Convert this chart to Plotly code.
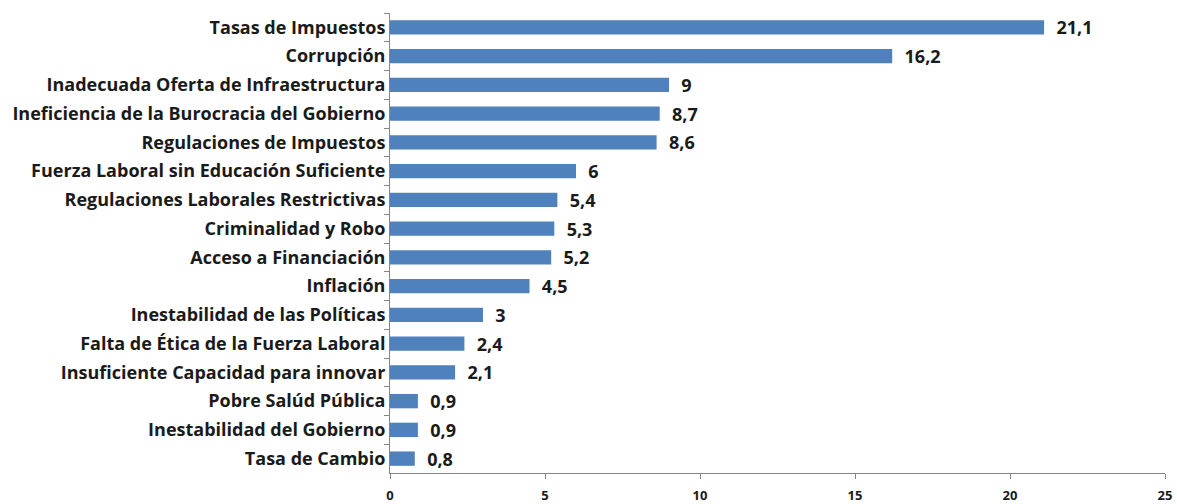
import plotly.graph_objects as go

categories = [
    "Tasas de Impuestos",
    "Corrupción",
    "Inadecuada Oferta de Infraestructura",
    "Ineficiencia de la Burocracia del Gobierno",
    "Regulaciones de Impuestos",
    "Fuerza Laboral sin Educación Suficiente",
    "Regulaciones Laborales Restrictivas",
    "Criminalidad y Robo",
    "Acceso a Financiación",
    "Inflación",
    "Inestabilidad de las Políticas",
    "Falta de Ética de la Fuerza Laboral",
    "Insuficiente Capacidad para innovar",
    "Pobre Salúd Pública",
    "Inestabilidad del Gobierno",
    "Tasa de Cambio",
]
values = [21.1, 16.2, 9, 8.7, 8.6, 6, 5.4, 5.3, 5.2, 4.5, 3, 2.4, 2.1, 0.9, 0.9, 0.8]
value_labels = ["\u00a0\u00a0" + str(v).replace(".", ",") for v in values]
x_ticks = [0, 5, 10, 15, 20, 25]

FONT = "Open Sans"

fig = go.Figure(go.Bar(
    x=values, y=categories, orientation="h",
    marker=dict(color="#4F81BD", line=dict(width=0)),
    text=value_labels, textposition="outside", constraintext="none",
    textfont=dict(family=FONT, size=18, color="#1a1a1a", weight="bold"),
    cliponaxis=False, hoverinfo="skip",
))

fig.update_layout(
    width=1177, height=504,
    margin=dict(l=390, r=12, t=13, b=31, autoexpand=False),
    plot_bgcolor="white", paper_bgcolor="white",
    bargap=0.5,
    showlegend=False,
    font=dict(family=FONT, color="#1a1a1a"),
)
fig.update_xaxes(
    range=[0, 25], tickvals=x_ticks, showgrid=False, zeroline=False,
    showline=True, linecolor="#868686", linewidth=1, automargin=False,
    ticks="outside", ticklen=5, tickcolor="#868686",
    tickfont=dict(family=FONT, size=13, color="#1a1a1a", weight="bold"),
    ticklabelstandoff=5,
)
fig.update_yaxes(
    autorange="reversed", showgrid=False, zeroline=False, automargin=False,
    showline=True, linecolor="#868686", linewidth=1,
    ticks="outside", ticklen=5, tickcolor="#868686", tickson="boundaries",
    tickfont=dict(family=FONT, size=18, color="#1a1a1a", weight="bold"),
    ticklabelstandoff=0,
)

fig.write_html(
    "out.html",
    config={"displayModeBar": False, "staticPlot": True},
    post_script="document.body.style.margin='0';document.body.style.overflow='hidden';",
)
